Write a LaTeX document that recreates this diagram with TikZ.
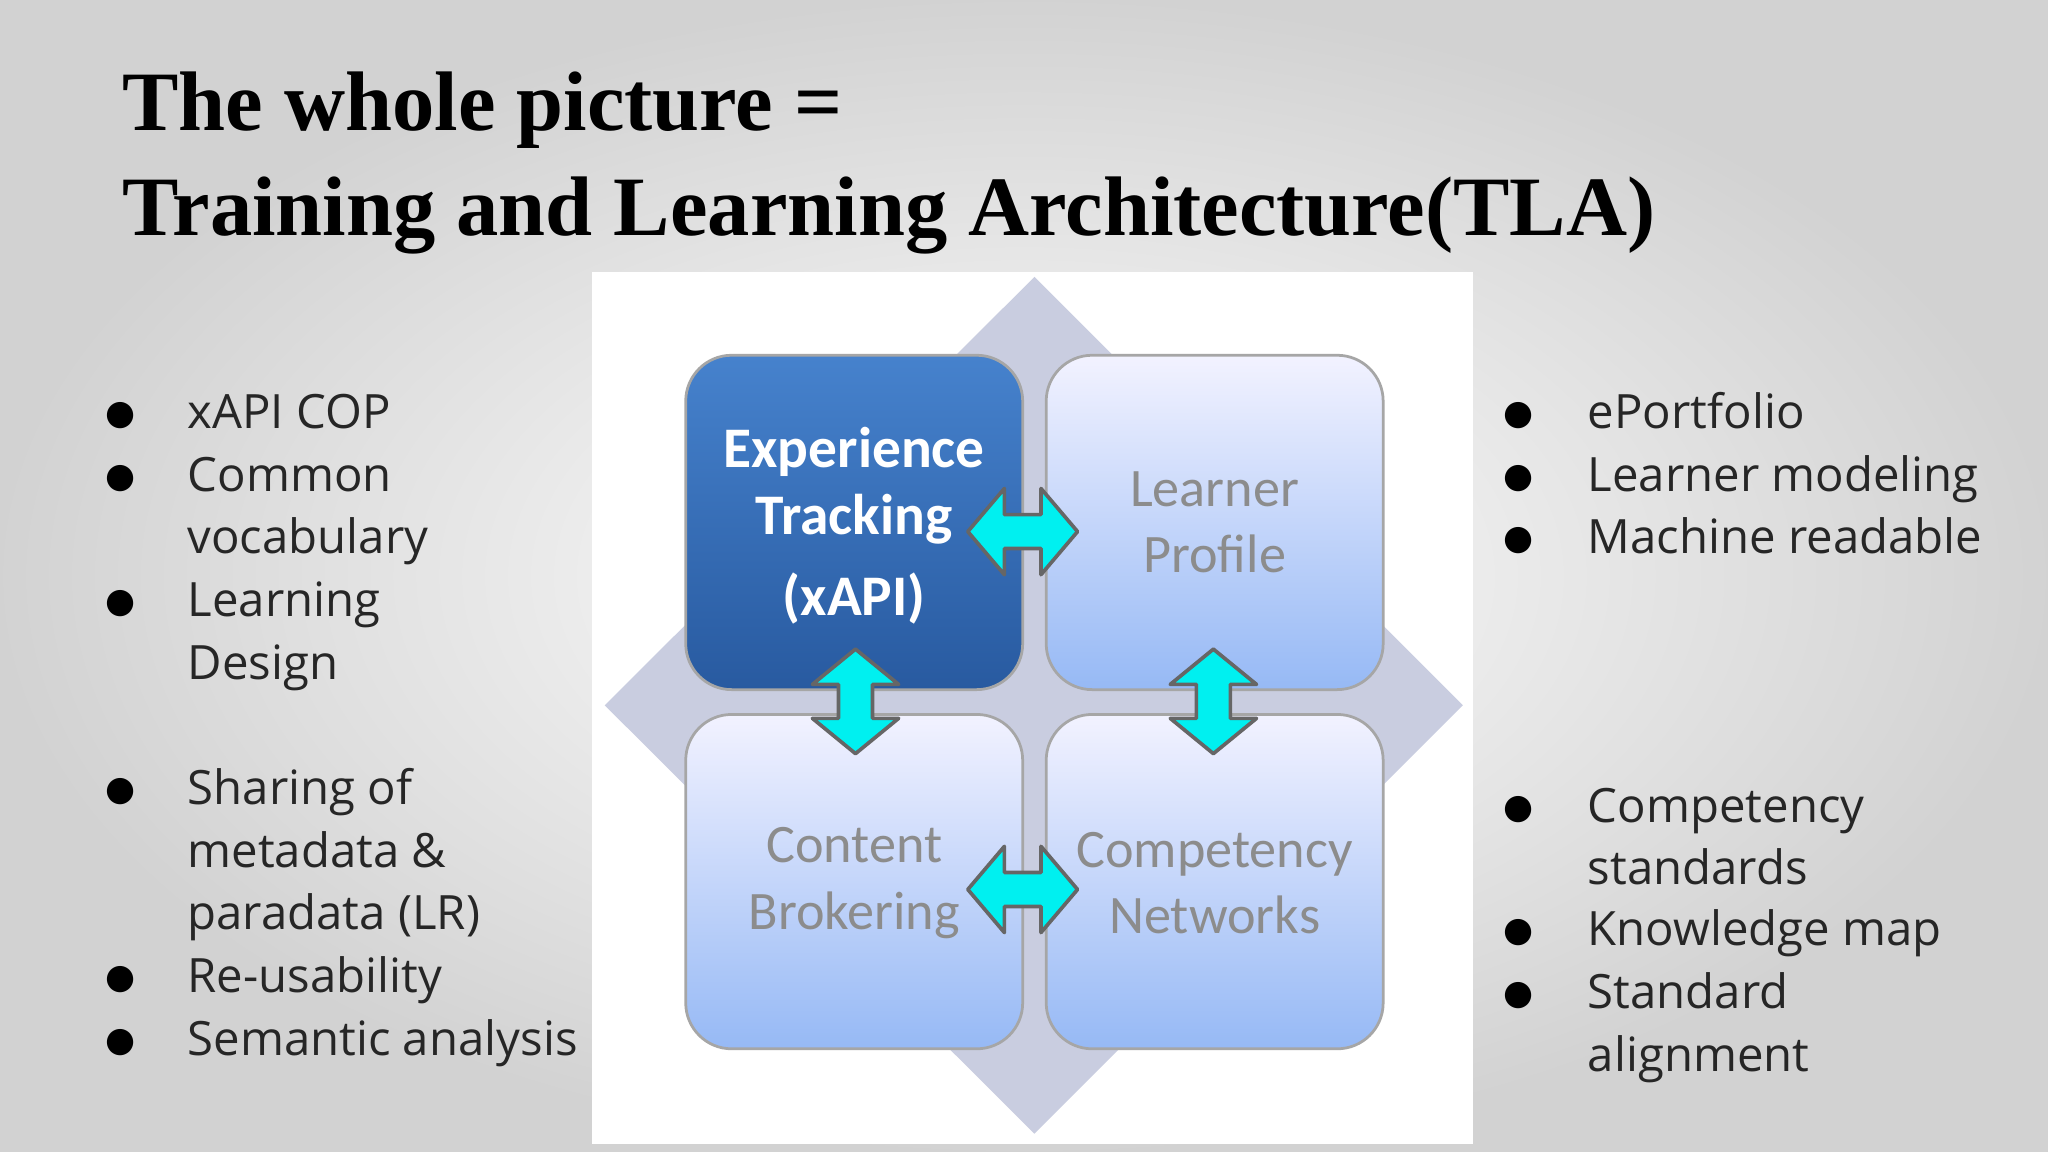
\documentclass[tikz,border=0pt]{standalone}
\usepackage{fontspec}
\setmainfont{Liberation Serif}
\newfontfamily\bodyf{Open Sans}
\newfontfamily\boxf{Carlito}
\newfontfamily\symf{DejaVu Sans}
\usetikzlibrary{shapes.geometric}
\definecolor{dia}{HTML}{C9CDE0}
\definecolor{cyanarr}{HTML}{00F0F0}
\tikzset{
 btxt/.style={anchor=base west,font=\bodyf\fontsize{10.3}{13}\selectfont,text=black!85,inner sep=0},
 dot/.style={anchor=base,font=\symf\fontsize{7.5}{13}\selectfont,inner sep=0},
 lbox/.style={rounded corners=10pt,draw=gray!70,line width=0.6pt,top color=blue!5,bottom color={rgb,255:red,150;green,185;blue,245}},
 dbox/.style={rounded corners=10pt,draw=gray!70,line width=0.6pt,top color={rgb,255:red,70;green,130;blue,205},bottom color={rgb,255:red,40;green,90;blue,160}},
 boxt/.style={font=\boxf\fontsize{11.8}{14.5}\selectfont,text=gray!90,align=center},
 arr/.style={fill=cyanarr,draw=black!60,line width=0.8pt,line join=round}
}
\newcommand{\harr}[2]{\draw[arr] (#1-42,#2) -- (#1-14,#2-33) -- (#1-14,#2-13) -- (#1+14,#2-13) -- (#1+14,#2-33) -- (#1+42,#2) -- (#1+14,#2+33) -- (#1+14,#2+13) -- (#1-14,#2+13) -- (#1-14,#2+33) -- cycle;}
\newcommand{\varr}[2]{\draw[arr] (#1,#2-40) -- (#1+33,#2-13) -- (#1+13,#2-13) -- (#1+13,#2+13) -- (#1+33,#2+13) -- (#1,#2+40) -- (#1-33,#2+13) -- (#1-13,#2+13) -- (#1-13,#2-13) -- (#1-33,#2-13) -- cycle;}
\begin{document}
\begin{tikzpicture}[x=0.01cm,y=-0.01cm]
\useasboundingbox (0,0) rectangle (1568,882);
\shade[inner color=white,outer color=gray!35] (0,0) rectangle (1568,882);
\node[anchor=base west,inner sep=0,font=\bfseries\fontsize{18.4}{22}\selectfont] (t1) at (93,100) {The whole picture =};
\node[anchor=base west,inner sep=0,font=\bfseries\fontsize{18.4}{22}\selectfont] (t2) at (93,180) {Training and Learning Architecture(TLA)};
\foreach \y/\t/\b in {328/xAPI COP/1,376/Common/1,424/vocabulary/0,472/Learning/1,520/Design/0,616/Sharing of/1,664/metadata \&/0,712/paradata (LR)/0,760/Re-usability/1,808/Semantic analysis/1}{
 \node[btxt] at (143,\y) {\t};
 \ifnum\b=1 \node[dot] at (92,\y-3) {●};\fi
}
\foreach \y/\t/\b in {328/ePortfolio/1,376/Learner modeling/1,424/Machine readable/1,630/Competency/1,677/standards/0,724/Knowledge map/1,772/Standard/1,820/alignment/0}{
 \node[btxt] at (1215,\y) {\t};
 \ifnum\b=1 \node[dot] at (1163,\y-3) {●};\fi
}
\fill[white] (453,208) rectangle (1128,876);
\fill[dia] (792,212) -- (1120,540) -- (792,868) -- (463,540) -- cycle;
\draw[dbox] (525,272) rectangle (783,528);
\draw[lbox] (801,272) rectangle (1059,528);
\draw[lbox] (525,547) rectangle (783,803);
\draw[lbox] (801,547) rectangle (1059,803);
\node[boxt,text=white,font=\boxf\bfseries\fontsize{12.5}{14.5}\selectfont] (et) at (654,372) {Experience\\Tracking};
\node[boxt,text=white,font=\boxf\bfseries\fontsize{12.5}{14.5}\selectfont] (xa) at (654,458) {(xAPI)};
\node[boxt] (lp) at (930,400) {Learner\\Profile};
\node[boxt] (cb) at (654,676) {Content\\Brokering};
\node[boxt] (cn) at (930,676) {Competency\\Networks};
\harr{783}{407}
\varr{655}{537}
\varr{929}{537}
\harr{783}{681}
\end{tikzpicture}
\end{document}
